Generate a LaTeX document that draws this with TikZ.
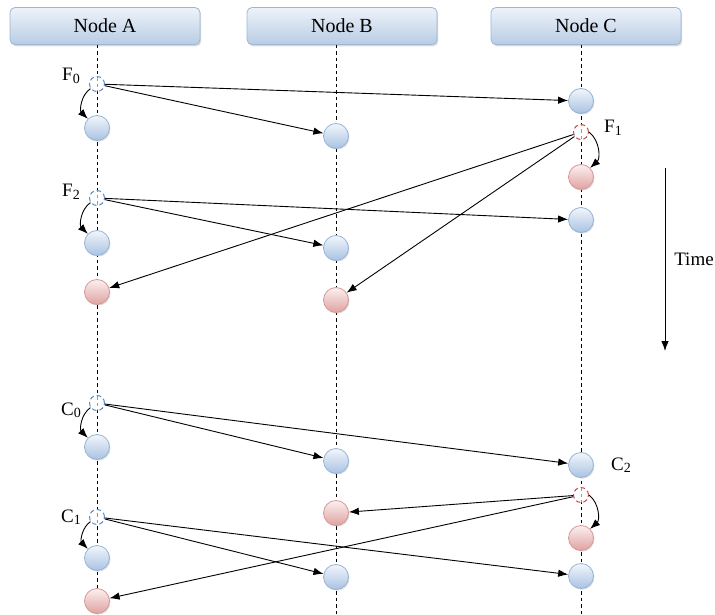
\documentclass[tikz,border=0pt]{standalone}
\usepackage{fontspec}
\setmainfont{Liberation Serif}
\usetikzlibrary{arrows.meta,shadows}
\definecolor{hdrtop}{HTML}{EEF3FA}
\definecolor{hdrbot}{HTML}{B8CCE4}
\definecolor{hdrline}{HTML}{9DB6D6}
\definecolor{bluetop}{HTML}{F2F6FB}
\definecolor{bluebot}{HTML}{A9C2E2}
\definecolor{blueline}{HTML}{95B3D7}
\definecolor{redtop}{HTML}{FBF0F0}
\definecolor{redbot}{HTML}{DFA2A1}
\definecolor{redline}{HTML}{D99694}
\definecolor{dashblue}{HTML}{5B8BC9}
\definecolor{dashred}{HTML}{C0504D}
\newcommand{\sbs}[1]{\raisebox{-0.28ex}{\fontsize{14}{16}\selectfont #1}}
\begin{document}
\begin{tikzpicture}[x=1pt,y=-1pt,
  header/.style={draw=hdrline, line width=0.8pt, rounded corners=5pt, top color=hdrtop, bottom color=hdrbot,
    minimum width=190pt, minimum height=37pt, inner sep=0pt, font=\fontsize{20}{22}\selectfont,
    drop shadow={opacity=0.3, shadow xshift=1.2pt, shadow yshift=-1.8pt}},
  bball/.style={circle, draw=blueline, line width=0.8pt, top color=bluetop, bottom color=bluebot,
    minimum size=25pt, inner sep=0pt, drop shadow={opacity=0.25, shadow xshift=1pt, shadow yshift=-1.2pt}},
  rball/.style={circle, draw=redline, line width=0.8pt, top color=redtop, bottom color=redbot,
    minimum size=25pt, inner sep=0pt, drop shadow={opacity=0.25, shadow xshift=1pt, shadow yshift=-1.2pt}},
  bdash/.style={circle, draw=dashblue, line width=1pt, dash pattern=on 4.5pt off 3pt, fill=white, fill opacity=0.6, text opacity=1,
    minimum size=15pt, inner sep=0pt},
  rdash/.style={circle, draw=dashred, line width=1pt, dash pattern=on 4.5pt off 3pt, fill=white, fill opacity=0.6, text opacity=1,
    minimum size=15pt, inner sep=0pt},
  life/.style={line width=0.8pt, dash pattern=on 3.5pt off 3pt},
  msg/.style={line width=0.9pt, -{Latex[length=10pt,width=7.5pt]}},
  lbl/.style={font=\fontsize{19}{21}\selectfont, inner sep=0pt}
]
\useasboundingbox (0,0) rectangle (715,615);

% headers
\node[header] (hA) at (105,26) {Node A};
\node[header] (hB) at (342,26) {Node B};
\node[header] (hC) at (586,26) {Node C};

% lifeline endpoints
\coordinate (eA) at (97,615);
\coordinate (eB) at (336,615);
\coordinate (eC) at (581,615);
\coordinate (sA) at (97,45);
\coordinate (sB) at (336,45);
\coordinate (sC) at (581,45);
\draw[life] (sA) -- (eA);
\draw[life] (sB) -- (eB);
\draw[life] (sC) -- (eC);

% Node A column
\node[bdash] (f0) at (97,84) {};
\node[bball] (a1) at (97,128) {};
\node[bdash] (f2) at (97,198) {};
\node[bball] (a2) at (97,243) {};
\node[rball] (a3) at (97,292) {};
\node[bdash] (c0) at (97,403) {};
\node[bball] (a4) at (97,447) {};
\node[bdash] (c1) at (97,517) {};
\node[bball] (a5) at (97,558) {};
\node[rball] (a6) at (97,601) {};

% Node B column
\node[bball] (b1) at (336,136) {};
\node[bball] (b2) at (336,248) {};
\node[rball] (b3) at (336,300) {};
\node[bball] (b4) at (336,461) {};
\node[rball] (b5) at (336,513) {};
\node[bball] (b6) at (336,577) {};

% Node C column
\node[bball] (k1) at (581,101) {};
\node[rdash] (f1) at (581,132) {};
\node[rball] (k2) at (581,177) {};
\node[bball] (k3) at (581,220) {};
\node[bball] (k4) at (581,465) {};
\node[rdash] (c2) at (581,495) {};
\node[rball] (k5) at (581,538) {};
\node[bball] (k6) at (581,576) {};

% labels
\node[lbl] (lf0) at (71,76) {F\sbs{0}};
\node[lbl] (lf2) at (71,192) {F\sbs{2}};
\node[lbl] (lc0) at (71,410) {C\sbs{0}};
\node[lbl] (lc1) at (71,517) {C\sbs{1}};
\node[lbl] (lf1) at (613,128) {F\sbs{1}};
\node[lbl] (lc2) at (621,465) {C\sbs{2}};

% messages F0
\draw[msg] (f0) -- (k1);
\draw[msg] (f0) -- (b1);
\draw[msg] (f0.215) to[bend right=50] (a1.north west);
% F1
\draw[msg] (f1) -- (a3);
\draw[msg] (f1) -- (b3);
\draw[msg] (f1.east) to[bend left=50] (k2.north east);
% F2
\draw[msg] (f2) -- (k3);
\draw[msg] (f2) -- (b2);
\draw[msg] (f2.215) to[bend right=50] (a2.north west);
% C0
\draw[msg] (c0) -- (b4);
\draw[msg] (c0) -- (k4);
\draw[msg] (c0.215) to[bend right=50] (a4.north west);
% C2
\draw[msg] (c2) -- (b5);
\draw[msg] (c2) -- (a6);
\draw[msg] (c2.east) to[bend left=50] (k5.north east);
% C1
\draw[msg] (c1) -- (b6);
\draw[msg] (c1) -- (k6);
\draw[msg] (c1.215) to[bend right=50] (a5.north west);

% time arrow
\coordinate (t1) at (665,168);
\coordinate (t2) at (665,351);
\draw[msg] (t1) -- (t2);
\node[font=\fontsize{19}{21}\selectfont, inner sep=0pt] (tl) at (694,259) {Time};
\end{tikzpicture}
\end{document}
